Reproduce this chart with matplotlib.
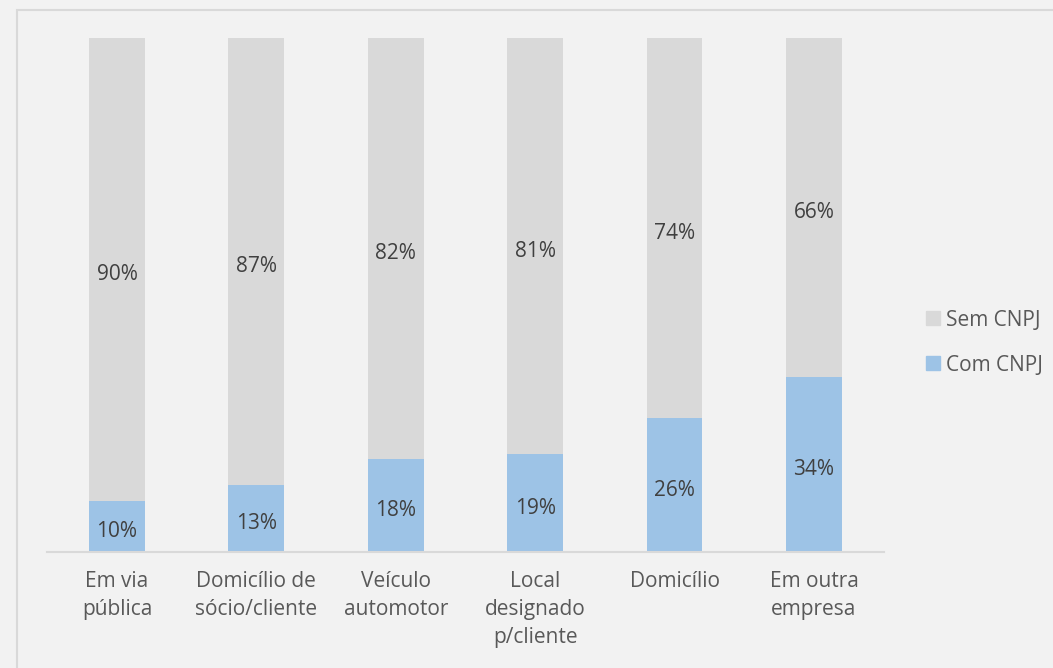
import matplotlib.pyplot as plt
import matplotlib.patches as mpatches
import numpy as np

# Data
categories = ["Em via\npública", "Domicílio de\nsócio/cliente", "Veículo\nautomotor",
              "Local\ndesignado\np/cliente", "Domicílio", "Em outra\nempresa"]
com_cnpj = [10, 13, 18, 19, 26, 34]
sem_cnpj = [90, 87, 82, 81, 74, 66]

BG = "#F2F2F2"
GREY = "#D9D9D9"
BLUE = "#9DC3E6"
TEXT = "#595959"
FONT = ["Open Sans", "DejaVu Sans"]
FS = 15

plt.rcParams['font.family'] = FONT

fig = plt.figure(figsize=(10.53, 6.68), dpi=100, facecolor=BG)
ax = fig.add_axes([0.0449, 0.1737, 0.7943, 0.7695])
ax.set_facecolor(BG)

# outer chart border (right/bottom run off the picture)
fig.patches.append(mpatches.Rectangle((17 / 1053, -0.1), 1.2, 1 - 10 / 668 + 0.1,
                                      transform=fig.transFigure, fill=False,
                                      edgecolor=GREY, linewidth=1.5))

x = np.arange(len(categories))
com = np.array(com_cnpj)
sem = np.array(sem_cnpj)
ax.bar(x, com, width=0.4, color=BLUE, label="Com CNPJ")
ax.bar(x, sem, width=0.4, bottom=com, color=GREY, label="Sem CNPJ")

# data labels, sitting a touch below the segment middle like Excel does
for i in range(len(x)):
    ax.text(x[i], com[i] / 2 - 0.5, f"{com[i]}%", ha="center", va="center_baseline",
            fontsize=FS, color="#404040")
    ax.text(x[i], com[i] + sem[i] / 2 - 0.5, f"{sem[i]}%", ha="center", va="center_baseline",
            fontsize=FS, color="#404040")

ax.set_xlim(-0.5, len(x) - 0.5)
ax.set_ylim(0, 100)
ax.set_xticks(x)
ax.set_xticklabels(categories, fontsize=FS, color=TEXT, linespacing=1.42)
ax.tick_params(axis="x", length=0, pad=14)
ax.set_yticks([])
for s in ["top", "right", "left"]:
    ax.spines[s].set_visible(False)
ax.spines["bottom"].set_color(GREY)
ax.spines["bottom"].set_linewidth(1.5)

handles = [mpatches.Patch(color=GREY), mpatches.Patch(color=BLUE)]
leg = fig.legend(handles, ["Sem CNPJ", "Com CNPJ"], loc="center left",
                 bbox_to_anchor=(0.8794, 0.487), frameon=False, fontsize=FS,
                 handlelength=0.67, handleheight=0.67, handletextpad=0.3,
                 labelspacing=1.15, borderpad=0, borderaxespad=0)
for t in leg.get_texts():
    t.set_color(TEXT)

fig.savefig("out.png", dpi=100, facecolor=BG)
